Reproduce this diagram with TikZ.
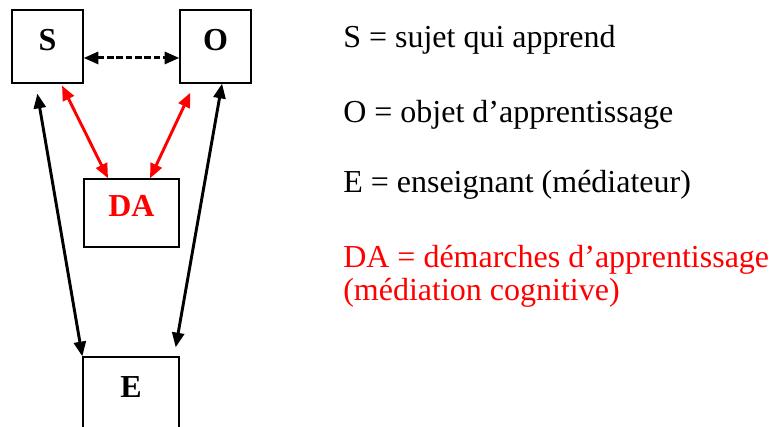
\documentclass[tikz,border=0pt]{standalone}
\usepackage{fontspec}
\setmainfont{Liberation Serif}
\usetikzlibrary{arrows.meta}
\begin{document}
\begin{tikzpicture}[x=0.75pt,y=-0.75pt,>={Triangle[length=11pt,width=9pt]},
  box/.style={draw,line width=1pt,inner sep=0pt,font=\fontsize{24}{25}\selectfont\bfseries,
    text height=16.5pt,text depth=10.5pt},
  link/.style={<->,line width=2.2pt},
  legend/.style={anchor=base west,inner sep=0pt,font=\fontsize{24}{25}\selectfont}]
  \useasboundingbox (0,0) rectangle (771,427);
  \clip (0,0) rectangle (771,427);
  % boxes
  \node[box,minimum width=53.25pt,minimum height=54.75pt] (S) at (47.5,46.5) {S};
  \node[box,minimum width=53.25pt,minimum height=54.75pt] (O) at (215.5,46.5) {O};
  \node[box,minimum width=71.25pt,minimum height=51pt,text=red] (DA) at (131.5,213) {DA};
  \node[box,minimum width=72pt,minimum height=54.75pt] (E) at (131,393.5) {E};
  % arrows
  \draw[link,dash pattern=on 5pt off 2pt] ([yshift=-8.6pt]S.east) -- ([yshift=-8.6pt]O.west);
  \draw[link] ([xshift=19.5pt,yshift=-7.5pt]S.south west) -- (E.north west);
  \draw[link] ([xshift=4.9pt]O.south) -- ([xshift=-3pt,yshift=6.75pt]E.north east);
  \draw[link,red] ([xshift=10.9pt,yshift=-1.5pt]S.south) -- ([xshift=-17.6pt]DA.north);
  \draw[link,red] ([xshift=8.25pt,yshift=-6.75pt]O.south west) -- ([xshift=13.9pt]DA.north);
  % legend
  \node[legend] (defS) at (343,48) {S = sujet qui apprend};
  \node[legend] (defO) at (343,123) {O = objet d’apprentissage};
  \node[legend] (defE) at (343,193) {E = enseignant (médiateur)};
  \node[legend,text=red,align=left] (defDA) at (343,301) {DA = démarches d’apprentissage\\(médiation cognitive)};
\end{tikzpicture}
\end{document}
